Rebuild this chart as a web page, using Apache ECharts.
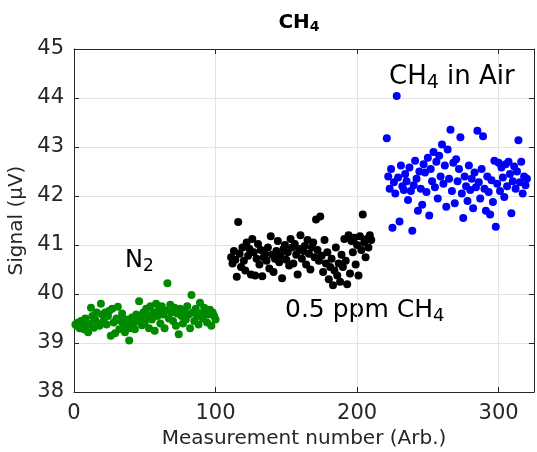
<!DOCTYPE html>
<html><head><meta charset="utf-8">
<script src="https://cdn.jsdelivr.net/npm/echarts@6/dist/echarts.min.js"></script>
<style>html,body{margin:0;padding:0;background:#fff}#c{width:537px;height:452px}</style>
</head><body><div id="c"></div>
<script>
const xStartN2 = 1, xStartLow = 111, xStartAir = 221;
const n2Values = [39.38,39.35,39.42,39.30,39.45,39.33,39.28,39.50,39.36,39.22,
39.40,39.72,39.55,39.31,39.48,39.62,39.40,39.35,39.80,39.58,
39.45,39.62,39.38,39.55,39.66,39.15,39.70,39.42,39.20,39.50,
39.74,39.28,39.45,39.60,39.35,39.22,39.48,39.38,39.05,39.30,
39.52,39.40,39.28,39.58,39.45,39.85,39.50,39.36,39.62,39.42,
39.70,39.55,39.30,39.75,39.48,39.62,39.25,39.80,39.55,39.68,
39.40,39.75,39.58,39.30,39.66,40.22,39.50,39.78,39.62,39.45,
39.72,39.35,39.60,39.18,39.70,39.55,39.40,39.65,39.48,39.75,
39.58,39.30,39.98,39.62,39.45,39.70,39.55,39.38,39.82,39.60,
39.50,39.72,39.65,39.42,39.58,39.68,39.35,39.62,39.55,39.48];
const lowValues = [40.75,40.62,40.88,40.70,40.35,41.47,40.82,40.55,40.95,40.68,
40.48,41.05,40.78,40.92,40.40,41.12,40.85,40.38,40.72,41.02,
40.60,40.90,40.36,40.75,40.82,40.68,40.95,40.52,41.18,40.80,
40.45,40.72,40.88,41.08,40.65,40.78,40.32,40.92,41.00,40.70,
40.85,40.58,41.12,40.95,40.62,41.02,40.80,40.40,40.92,41.20,
40.72,40.88,40.98,40.60,41.10,40.82,40.50,40.95,41.05,40.75,
41.52,40.90,40.68,41.58,40.78,40.45,41.10,40.62,40.85,40.30,
40.55,40.72,40.18,40.48,40.95,40.38,40.62,40.25,40.80,40.55,
41.12,40.68,40.20,41.20,40.42,41.08,40.85,41.15,40.60,41.00,
40.38,41.18,40.90,41.62,41.05,40.75,41.12,40.95,41.20,41.10];
const airValues = [43.18,42.40,42.15,42.55,41.35,42.28,42.05,44.04,42.38,41.48,
42.62,42.20,42.12,42.45,42.30,41.92,42.58,42.10,41.29,42.22,
42.72,42.35,41.70,42.50,42.15,41.82,42.65,42.48,42.08,42.78,
41.60,42.55,42.30,42.90,42.18,42.70,41.95,42.82,42.40,43.05,
42.25,42.62,41.78,42.95,42.35,43.35,42.10,42.68,41.85,42.75,
42.30,42.55,43.20,42.05,41.55,42.40,42.20,41.90,42.62,42.12,
42.35,41.75,42.48,42.18,43.33,42.28,41.95,42.55,43.22,42.15,
41.70,42.40,42.08,41.62,42.32,41.88,42.72,41.37,42.25,42.68,
42.10,42.58,42.38,41.98,42.65,42.20,42.70,42.45,41.65,42.30,
42.60,42.15,42.50,43.14,42.28,42.70,42.05,42.40,42.22,42.35];
const xTicks = [0,100,200,300];
const yTicks = [38,39,40,41,42,43,44,45];

function pts(x0, vals){ return vals.map((v,i)=>[x0+i, v]); }

const FONT = 'DejaVu Sans';
const chart = echarts.init(document.getElementById('c'), null, {renderer:'canvas'});
const axisLineStyle = {color:'#262626', width:1};
const sub = (color, size, fs) => ({
  base:{fontFamily:FONT, fontSize:size, color:color, fontWeight:fs||'normal'},
  sub:{fontFamily:FONT, fontSize:Math.round(size*0.72), color:color, fontWeight:fs||'normal', padding:[Math.round(size*0.45),0,0,0]}
});
chart.setOption({
  animation:false,
  backgroundColor:'#fff',
  title:{text:'{base|CH}{sub|4}', left:294, top:6, textAlign:'center',
    textStyle:{rich:sub('#000',20,'bold')}},
  grid:{left:74, right:3, top:49, bottom:60, containLabel:false, outerBoundsMode:'none'},
  xAxis:[{type:'value', min:0, max:325, interval:100,
    name:'Measurement number (Arb.)', nameLocation:'middle', nameGap:35,
    nameTextStyle:{fontFamily:FONT, fontSize:20, color:'#262626'},
    axisLine:{show:true, onZero:false, lineStyle:axisLineStyle},
    axisTick:{show:true, inside:true, length:5, lineStyle:axisLineStyle},
    axisLabel:{fontFamily:FONT, fontSize:21, color:'#262626', margin:11,
      formatter:v=> xTicks.includes(v)? String(v):''},
    splitLine:{show:true, lineStyle:{color:'#e3e3e3'}}},
   {type:'value', position:'top', min:0, max:325, interval:100,
    axisLine:{show:true, onZero:false, lineStyle:axisLineStyle},
    axisTick:{show:true, inside:true, length:5, lineStyle:axisLineStyle},
    axisLabel:{show:false}, splitLine:{show:false}}],
  yAxis:[{type:'value', min:38, max:45, interval:1,
    name:'Signal (μV)', nameLocation:'middle', nameGap:42,
    nameTextStyle:{fontFamily:FONT, fontSize:20, color:'#262626'},
    axisLine:{show:true, onZero:false, lineStyle:axisLineStyle},
    axisTick:{show:true, inside:true, length:5, lineStyle:axisLineStyle},
    axisLabel:{fontFamily:FONT, fontSize:21, color:'#262626', margin:10,
      formatter:v=> yTicks.includes(v)? String(v):''},
    splitLine:{show:true, lineStyle:{color:'#e3e3e3'}}},
   {type:'value', position:'right', min:38, max:45, interval:1,
    axisLine:{show:true, onZero:false, lineStyle:axisLineStyle},
    axisTick:{show:true, inside:true, length:5, lineStyle:axisLineStyle},
    axisLabel:{show:false}, splitLine:{show:false}}],
  series:[
    {type:'scatter', name:'N2', data:pts(xStartN2,n2Values), symbolSize:8, itemStyle:{color:'#008a00', opacity:1}},
    {type:'scatter', name:'0.5 ppm', data:pts(xStartLow,lowValues), symbolSize:8, itemStyle:{color:'#000', opacity:1}},
    {type:'scatter', name:'Air', data:pts(xStartAir,airValues), symbolSize:8, itemStyle:{color:'#0000ff', opacity:1}}
  ],
  graphic:[
    {type:'text', left:125, top:249, style:{text:'{base|N}{sub|2}', rich:sub('#0a8a0a',24)}},
    {type:'text', left:285, top:298, style:{text:'{base|0.5 ppm CH}{sub|4}', rich:sub('#000',25)}},
    {type:'text', left:389, top:64, style:{text:'{base|CH}{sub|4}{base| in Air}', rich:sub('#0000ff',26)}}
  ]
});
</script></body></html>
